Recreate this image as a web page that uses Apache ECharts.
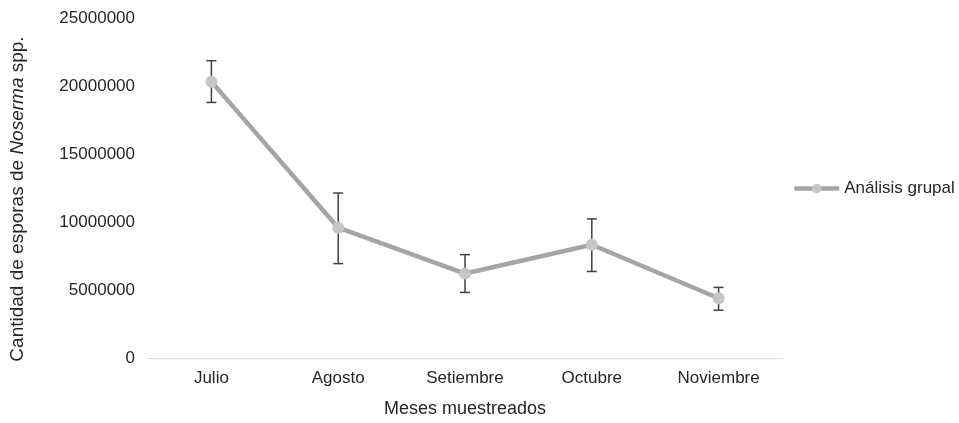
<!DOCTYPE html>
<html>
<head>
<meta charset="utf-8">
<script src="https://cdn.jsdelivr.net/npm/echarts@6/dist/echarts.min.js"></script>
<style>html,body{margin:0;padding:0;background:#fff}#c{width:959px;height:423px}</style>
</head>
<body>
<div id="c"></div>
<script>
var categories = ['Julio', 'Agosto', 'Setiembre', 'Octubre', 'Noviembre'];
var means = [20320000, 9580000, 6210000, 8330000, 4390000];
var upper = [21860000, 12130000, 7600000, 10230000, 5190000];
var lower = [18790000, 6940000, 4820000, 6360000, 3510000];
var yTicks = [0, 5000000, 10000000, 15000000, 20000000, 25000000];

var font = '"Liberation Sans", Arial, sans-serif';
var txt = '#262626';
var chart = echarts.init(document.getElementById('c'));
var errData = categories.map(function (c, i) { return [i, lower[i], upper[i]]; });

chart.setOption({
  animation: false,
  grid: { left: 148, right: 177, top: 18, bottom: 63, containLabel: false },
  legend: {
    orient: 'vertical', left: 787, top: 175,
    itemWidth: 45, itemHeight: 12, itemGap: 5,
    textStyle: { fontFamily: font, fontSize: 17, color: txt },
    lineStyle: { width: 4.5 },
    data: ['Análisis grupal']
  },
  xAxis: {
    type: 'category', data: categories, boundaryGap: true,
    axisLine: { lineStyle: { color: '#d9d9d9', width: 1 } },
    axisTick: { show: false },
    axisLabel: { fontFamily: font, fontSize: 17, color: txt, margin: 12 },
    name: 'Meses muestreados', nameLocation: 'middle', nameGap: 42,
    nameTextStyle: { fontFamily: font, fontSize: 18, color: txt }
  },
  yAxis: {
    type: 'value', min: yTicks[0], max: yTicks[yTicks.length - 1], interval: 5000000,
    axisLine: { show: false }, axisTick: { show: false }, splitLine: { show: false },
    axisLabel: { fontFamily: font, fontSize: 17, color: txt, margin: 13,
      formatter: function (v) { return String(v); } },
    name: '{n|Cantidad de esporas de }{i|Noserma}{n| spp.}',
    nameLocation: 'middle', nameGap: 121, nameRotate: 90,
    nameTextStyle: {
      fontFamily: font, fontSize: 19, color: txt, padding: [0, 22, 0, 0],
      rich: {
        n: { fontFamily: font, fontSize: 19, color: txt },
        i: { fontFamily: font, fontSize: 19, color: txt, fontStyle: 'italic' }
      }
    }
  },
  series: [
    {
      type: 'custom', name: 'err', z: 1, silent: true,
      data: errData,
      renderItem: function (params, api) {
        var x = api.value(0);
        var lo = api.coord([x, api.value(1)]);
        var hi = api.coord([x, api.value(2)]);
        var w = 5;
        var st = { stroke: '#404040', lineWidth: 1.5 };
        return {
          type: 'group',
          children: [
            { type: 'line', shape: { x1: lo[0], y1: lo[1], x2: hi[0], y2: hi[1] }, style: st },
            { type: 'line', shape: { x1: hi[0] - w, y1: hi[1], x2: hi[0] + w, y2: hi[1] }, style: st },
            { type: 'line', shape: { x1: lo[0] - w, y1: lo[1], x2: lo[0] + w, y2: lo[1] }, style: st }
          ]
        };
      }
    },
    {
      type: 'line', name: 'Análisis grupal', z: 3,
      data: means,
      lineStyle: { color: '#a5a5a5', width: 4.5 },
      itemStyle: { color: '#c6c6c6', borderWidth: 0 },
      symbol: 'circle', symbolSize: 12, showSymbol: true
    }
  ]
});
</script>
</body>
</html>
